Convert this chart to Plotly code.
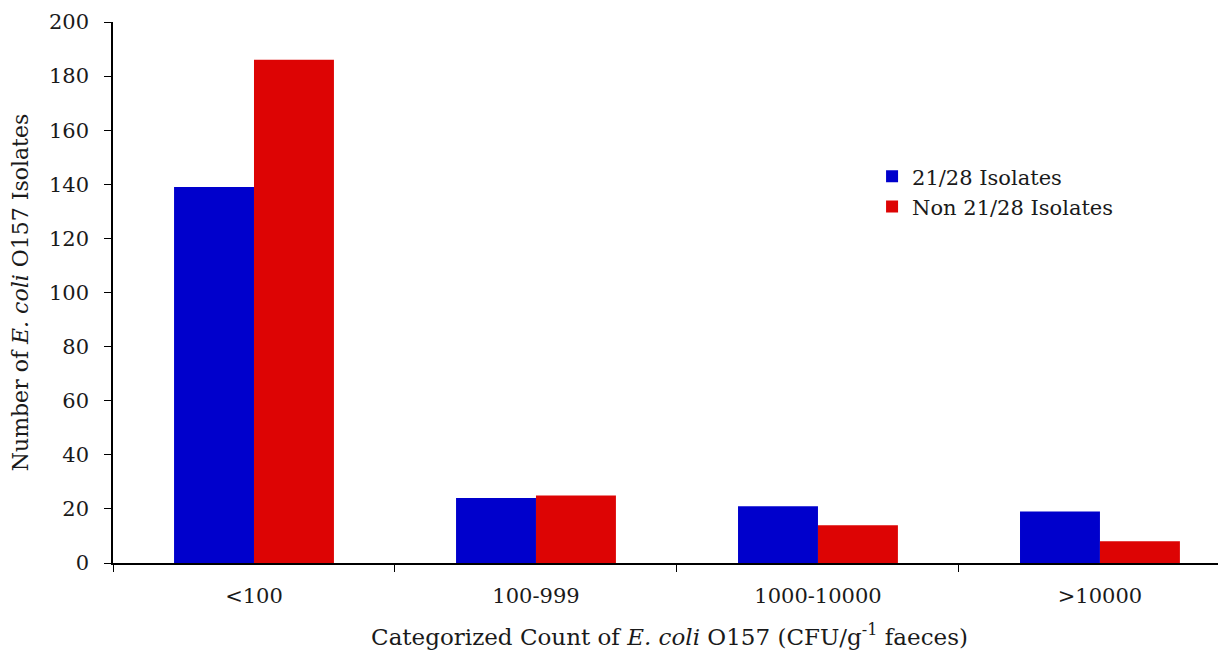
import plotly.graph_objects as go

categories = ["<100", "100-999", "1000-10000", ">10000"]
isolates_2128 = [139, 24, 21, 19]
isolates_non_2128 = [186, 25, 14, 8]
y_ticks = [0, 20, 40, 60, 80, 100, 120, 140, 160, 180, 200]

FONT = "DejaVu Serif, serif"
TXT = "#1a1a1a"

fig = go.Figure()
fig.add_trace(go.Bar(x=categories, y=isolates_2128, name="21/28 Isolates",
                     marker=dict(color="#0000CC", line=dict(width=0))))
fig.add_trace(go.Bar(x=categories, y=isolates_non_2128, name="Non 21/28 Isolates",
                     marker=dict(color="#DD0404", line=dict(width=0))))

# page body has an 8px margin, so the figure is sized to fit the window
fig.update_layout(
    width=1218, height=642,
    margin=dict(l=105, r=0, t=14, b=87, autoexpand=False),
    paper_bgcolor="white", plot_bgcolor="white",
    font=dict(family=FONT, size=21, color=TXT),
    barmode="group", bargap=0.433, bargroupgap=0,
    showlegend=True,
    legend=dict(x=0.682, y=0.752, xanchor="left", yanchor="top",
                font=dict(family=FONT, size=21, color=TXT),
                bgcolor="rgba(0,0,0,0)", itemwidth=30, tracegroupgap=7),
)
fig.update_xaxes(
    type="category", range=[-0.5, 3.447], automargin=False,
    showline=True, linecolor="black", linewidth=1.5,
    ticks="outside", tickson="boundaries", ticklen=7, tickcolor="black",
    ticklabelstandoff=13,
    showgrid=False, zeroline=False,
    tickfont=dict(family=FONT, size=21, color=TXT),
    title=dict(text="Categorized Count of <i>E. coli</i> O157 (CFU/g<sup>-1</sup> faeces)",
               font=dict(family=FONT, size=23, color=TXT), standoff=23),
)
fig.update_yaxes(
    range=[0, 200], tickvals=y_ticks, automargin=False,
    showline=True, linecolor="black", linewidth=1.5,
    ticks="outside", ticklen=7, tickcolor="black",
    ticklabelstandoff=11,
    showgrid=False, zeroline=False,
    tickfont=dict(family=FONT, size=21, color=TXT),
    title=dict(text="Number of <i>E. coli</i> O157 Isolates",
               font=dict(family=FONT, size=22, color=TXT), standoff=16),
)
fig.write_html("out.html")
